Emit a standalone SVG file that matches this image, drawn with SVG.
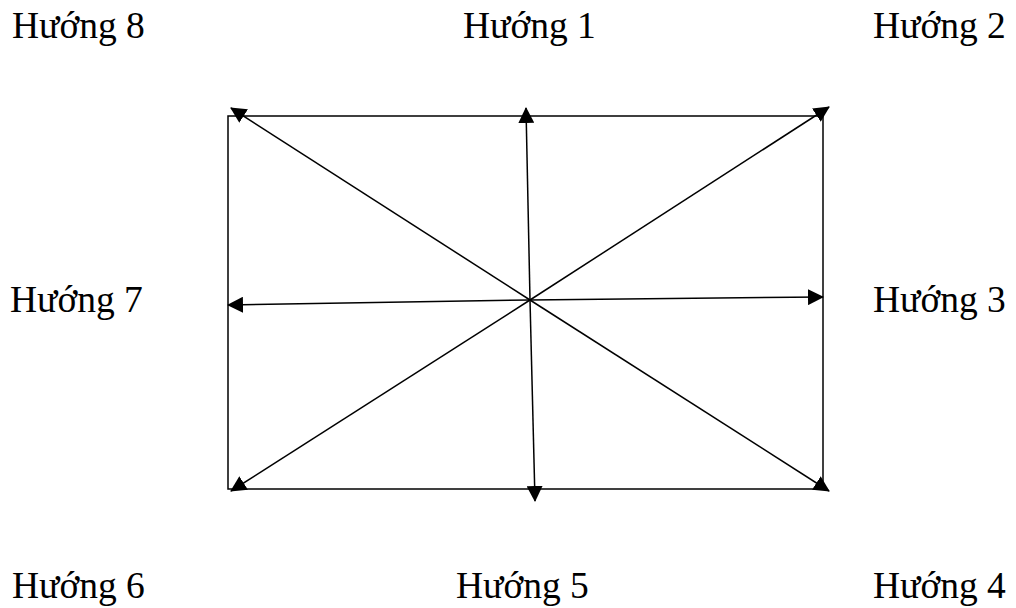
<svg xmlns="http://www.w3.org/2000/svg" width="1016" height="608" viewBox="0 0 1016 608">
<style>
.lbl{font-family:"Liberation Serif","DejaVu Serif",serif;font-size:37.5px;fill:#000}
.ln{stroke:#000;stroke-width:1.5;fill:none}
.ar{stroke:#000;stroke-width:1.5;fill:none;marker-end:url(#ah)}
</style>
<defs>
<marker id="ah" markerUnits="userSpaceOnUse" markerWidth="16" markerHeight="16" viewBox="0 0 16 16" refX="15" refY="8" orient="auto">
<path d="M0,0 L16,8 L0,16 Z" fill="#000"/>
</marker>
</defs>
<rect id="frame" class="ln" x="228" y="116" width="595" height="373"/>
<g id="connectors">
<line class="ar" x1="530" y1="300" x2="231" y2="108"/>
<line class="ar" x1="530" y1="300" x2="526" y2="108"/>
<line class="ar" x1="530" y1="300" x2="829" y2="107"/>
<line class="ar" x1="530" y1="300" x2="228" y2="305"/>
<line class="ar" x1="530" y1="300" x2="823" y2="297"/>
<line class="ar" x1="530" y1="300" x2="231" y2="491"/>
<line class="ar" x1="530" y1="300" x2="535" y2="501"/>
<line class="ar" x1="530" y1="300" x2="829" y2="491"/>
</g>
<g id="h8"><text class="lbl" x="12" y="38">Hướng 8</text></g>
<g id="h1"><text class="lbl" x="463" y="38">Hướng 1</text></g>
<g id="h2"><text class="lbl" x="873" y="38">Hướng 2</text></g>
<g id="h7"><text class="lbl" x="10" y="312">Hướng 7</text></g>
<g id="h3"><text class="lbl" x="873" y="312">Hướng 3</text></g>
<g id="h6"><text class="lbl" x="12" y="598">Hướng 6</text></g>
<g id="h5"><text class="lbl" x="456" y="598">Hướng 5</text></g>
<g id="h4"><text class="lbl" x="873" y="598">Hướng 4</text></g>
</svg>
